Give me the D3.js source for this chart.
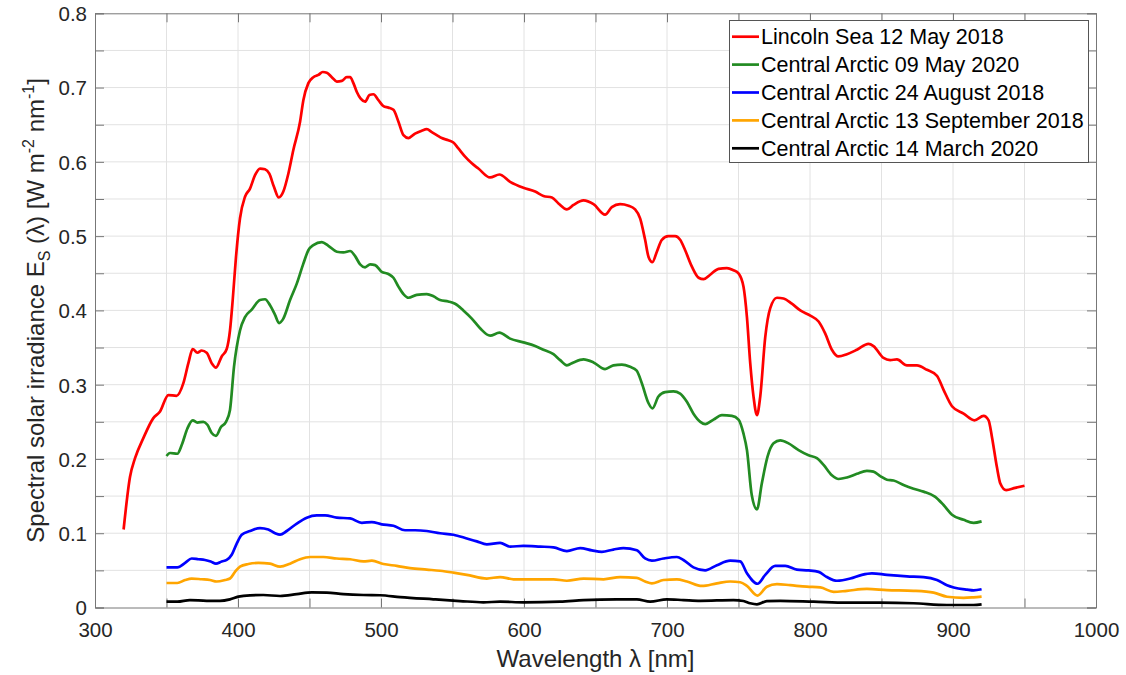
<!DOCTYPE html>
<html>
<head>
<meta charset="utf-8">
<script src="https://cdn.jsdelivr.net/npm/d3@7"></script>
<style>
body{margin:0;background:#fff}
text{font-family:"Liberation Sans",Arial,sans-serif}
</style>
</head>
<body>
<div id="chart"></div>
<script>
// legend text + line colours, same order as the series list below
var seriesNames = ["Lincoln Sea 12 May 2018","Central Arctic 09 May 2020","Central Arctic 24 August 2018","Central Arctic 13 September 2018","Central Arctic 14 March 2020"]
var seriesColors = ["#ff0000","#228b22","#0000ff","#ffa500","#000000"]

var xTicks = [300,350,400,450,500,550,600,650,700,750,800,850,900,950,1000]
var yTicks = [0,0.05,0.1,0.15,0.2,0.25,0.3,0.35,0.4,0.45,0.5,0.55,0.6,0.65,0.7,0.75,0.8]

// [wavelength nm, Es W m-2 nm-1]
var lincolnSea = [[320,0.105],[324.5,0.176],[328,0.201],[333.8,0.228],[340.8,0.255],[345.5,0.264],[351.3,0.286],[357,0.285],[361.8,0.302],[365.3,0.329],[368.3,0.348],[371.6,0.343],[374.6,0.346],[378.1,0.343],[381.6,0.329],[384.6,0.323],[388.6,0.338],[392.1,0.348],[394.4,0.373],[396.3,0.414],[398.6,0.472],[401.4,0.524],[404.9,0.553],[408.4,0.564],[411.9,0.582],[415.4,0.591],[418.9,0.59],[421.9,0.584],[425.2,0.566],[428.5,0.552],[431.7,0.56],[435.2,0.584],[438.7,0.616],[443.4,0.654],[445.7,0.683],[449.2,0.706],[452.7,0.714],[456.2,0.717],[459.3,0.721],[462.1,0.72],[465.6,0.714],[469.1,0.708],[472.6,0.709],[476.1,0.714],[478.4,0.714],[480.7,0.706],[483.1,0.694],[485.8,0.685],[488.9,0.681],[491.9,0.69],[494.7,0.691],[498.2,0.683],[501.7,0.675],[505.2,0.673],[508.7,0.67],[512.2,0.654],[515.7,0.636],[519.2,0.632],[523.8,0.638],[528.5,0.642],[532,0.644],[535.5,0.64],[539,0.636],[542.5,0.632],[547.1,0.629],[550.6,0.626],[554.1,0.618],[558.8,0.607],[563.5,0.598],[568.1,0.591],[576.3,0.579],[582.8,0.583],[590.3,0.573],[599.6,0.565],[607.8,0.56],[613.6,0.554],[619.5,0.552],[624.1,0.544],[630,0.536],[634.6,0.542],[641.6,0.548],[648.6,0.543],[656.7,0.529],[661.4,0.539],[667.2,0.543],[673.1,0.541],[677.7,0.536],[681.2,0.524],[684.7,0.495],[687.1,0.472],[689.8,0.465],[692.9,0.479],[696.4,0.495],[701,0.5],[705.7,0.5],[709.2,0.495],[712.7,0.481],[717.4,0.459],[722.1,0.444],[725.6,0.442],[730.2,0.448],[736,0.456],[741.9,0.457],[746.5,0.454],[750,0.45],[753.5,0.432],[755.9,0.391],[758.2,0.329],[760.5,0.284],[762.9,0.259],[765.2,0.284],[768.7,0.364],[772.2,0.403],[776.9,0.417],[781.5,0.416],[787.3,0.409],[793.2,0.4],[800.2,0.393],[806,0.385],[810.6,0.369],[815.3,0.347],[819.9,0.338],[825.8,0.341],[832.8,0.347],[840.9,0.355],[844.4,0.352],[851.4,0.336],[856.1,0.333],[860.8,0.334],[867.8,0.326],[874.8,0.326],[881.8,0.32],[888.8,0.312],[893.4,0.293],[899.3,0.271],[907.4,0.261],[915,0.252],[921.4,0.258],[924.9,0.252],[927.2,0.23],[930.7,0.189],[933.1,0.167],[937.2,0.158],[943.5,0.161],[950,0.164]]

var arcticMay = [[350,0.204],[352.5,0.208],[357.6,0.207],[360.7,0.219],[364.6,0.241],[368.3,0.252],[371.6,0.249],[375.8,0.25],[378.6,0.246],[381.6,0.235],[384.6,0.231],[388.1,0.243],[391.6,0.25],[394.4,0.266],[397.2,0.324],[401.4,0.373],[404.9,0.391],[409.6,0.401],[415.4,0.414],[418.9,0.415],[422.4,0.407],[425.9,0.394],[428.7,0.383],[431.7,0.389],[436.4,0.414],[441.1,0.436],[445.7,0.463],[449.2,0.481],[452.7,0.488],[458.6,0.492],[463.2,0.487],[469.1,0.479],[473.7,0.478],[478.4,0.48],[481.9,0.473],[485.4,0.462],[488.9,0.458],[492.4,0.462],[495.9,0.461],[500.5,0.452],[505.2,0.449],[508.7,0.444],[512.2,0.432],[515.7,0.422],[519.2,0.417],[525,0.421],[532,0.422],[536.7,0.419],[541.3,0.414],[547.1,0.412],[551.8,0.409],[557.6,0.4],[563.5,0.389],[569.3,0.376],[576.3,0.366],[582.8,0.37],[590.3,0.362],[599.6,0.357],[607.8,0.352],[613.6,0.347],[620.6,0.341],[625.3,0.333],[630,0.326],[634.6,0.33],[641.6,0.334],[648.6,0.33],[656.7,0.321],[662.5,0.326],[668.4,0.327],[674.2,0.324],[678.8,0.319],[682.4,0.302],[687.1,0.275],[689.8,0.268],[694,0.284],[698.7,0.29],[704.5,0.291],[709.2,0.288],[713.9,0.277],[718.5,0.261],[723.3,0.25],[726.8,0.247],[732.5,0.253],[738.4,0.259],[745.4,0.258],[750,0.253],[753.5,0.234],[755.9,0.212],[759.3,0.151],[762.9,0.132],[766.3,0.167],[770.3,0.203],[774.5,0.221],[779.2,0.225],[785,0.221],[792,0.212],[799,0.205],[804.8,0.201],[809.5,0.192],[815.3,0.178],[820,0.173],[825.8,0.175],[832.8,0.18],[839.8,0.184],[844.4,0.183],[849.1,0.177],[853.8,0.172],[858.4,0.171],[865.4,0.165],[872.4,0.16],[879.4,0.156],[887.6,0.149],[893.4,0.138],[899.3,0.125],[907.4,0.118],[914.4,0.114],[920,0.116]]

var arcticAug = [[350,0.054],[357.6,0.054],[363,0.06],[367.6,0.066],[372.3,0.065],[376.9,0.064],[380.9,0.062],[384.6,0.059],[388.6,0.062],[392.1,0.064],[395.6,0.071],[399.1,0.086],[402.6,0.098],[408.4,0.103],[415.4,0.107],[421.2,0.105],[425.9,0.1],[429.4,0.098],[434.1,0.103],[441.1,0.113],[448.1,0.121],[455.1,0.124],[460.9,0.124],[469.1,0.121],[478.4,0.12],[486.6,0.114],[493.6,0.115],[500.5,0.112],[508.7,0.11],[516.8,0.104],[523.8,0.104],[532,0.103],[541.3,0.1],[550.6,0.098],[560,0.093],[567,0.089],[574,0.085],[583.3,0.087],[590.3,0.082],[599.6,0.083],[611.3,0.082],[620.6,0.081],[630,0.076],[639.3,0.08],[647.4,0.077],[654.4,0.075],[662.5,0.078],[669.5,0.08],[678.9,0.077],[684.7,0.066],[689.4,0.063],[697.5,0.066],[706.9,0.068],[711.5,0.064],[718.5,0.054],[726.7,0.05],[734.9,0.057],[744.2,0.063],[751.2,0.062],[755.9,0.046],[763.3,0.032],[768.7,0.044],[775.7,0.056],[782.7,0.056],[790.8,0.051],[799,0.05],[806,0.048],[811.8,0.041],[818.8,0.036],[828.2,0.039],[836.3,0.044],[843.3,0.046],[853.8,0.044],[867.8,0.042],[879.4,0.041],[888.8,0.037],[895.8,0.03],[900.5,0.027],[909.8,0.024],[914.4,0.023],[920,0.0245]]

var arcticSep = [[350,0.033],[357.6,0.033],[363,0.037],[367.6,0.039],[374.6,0.038],[380.4,0.037],[385.1,0.035],[390.9,0.037],[394.4,0.039],[397.9,0.048],[401.4,0.055],[407.2,0.0585],[414.2,0.06],[422.4,0.059],[429.4,0.055],[436.4,0.059],[443.4,0.065],[450.4,0.068],[459.7,0.068],[469.1,0.066],[478.4,0.065],[487.7,0.062],[493.6,0.063],[501.7,0.0585],[511,0.056],[520.3,0.053],[532,0.051],[541.3,0.0495],[550.6,0.047],[560,0.044],[574,0.039],[583.3,0.041],[592.7,0.038],[606.6,0.038],[620.6,0.038],[630,0.036],[641.6,0.039],[655.6,0.038],[667.2,0.041],[678.9,0.04],[684.7,0.035],[689.4,0.0325],[697.5,0.037],[706.9,0.038],[713.9,0.035],[724.4,0.029],[734.9,0.0325],[744.2,0.035],[751.2,0.034],[755.9,0.029],[763.3,0.016],[769.8,0.028],[776.9,0.0315],[786.2,0.03],[797.8,0.028],[807.2,0.027],[816.5,0.021],[825.8,0.0225],[839.8,0.025],[853.8,0.0235],[872.4,0.0225],[886.5,0.02],[895.8,0.0145],[907.4,0.013],[914.4,0.0137],[920,0.0146]]

var arcticMar = [[350,0.0078],[357.6,0.0078],[366.4,0.01],[378.1,0.009],[387.4,0.009],[394.4,0.011],[400.3,0.0146],[408.4,0.0164],[417.7,0.0168],[429.4,0.0155],[441.1,0.018],[451.6,0.0204],[462.1,0.02],[473.7,0.018],[487.7,0.0168],[499.4,0.0165],[513.4,0.014],[536.6,0.011],[555.3,0.0087],[571.6,0.007],[583.3,0.0078],[599.6,0.007],[625.3,0.0078],[641.6,0.01],[664.9,0.011],[678.9,0.011],[688.2,0.0078],[699.9,0.011],[711.5,0.01],[723.2,0.009],[746.5,0.01],[753.5,0.0087],[758.2,0.0057],[762.9,0.0043],[769.8,0.0087],[779.2,0.009],[802.5,0.0078],[825.8,0.0065],[849.1,0.0065],[872.4,0.0057],[895.8,0.0034],[914.4,0.0034],[920,0.0043]]

var allSeries = [lincolnSea, arcticMay, arcticAug, arcticSep, arcticMar]

var W = 1126, H = 675
// plot box edges (don't call these top/left, window.top is taken)
var plotL = 95, plotR = 1096, plotT = 13.3, plotB = 607.5

var svg = d3.select("#chart").append("svg")
    .attr("width", W).attr("height", H)

var x = d3.scaleLinear().domain([300,1000]).range([plotL,plotR])
var y = d3.scaleLinear().domain([0,0.8]).range([plotB,plotT])

// grid
svg.append("g").selectAll("line").data(xTicks.slice(1,-1)).enter().append("line")
    .attr("x1", d => x(d)).attr("x2", d => x(d))
    .attr("y1", plotT).attr("y2", plotB)
    .attr("stroke", "#e2e2e2").attr("stroke-width", 1)
svg.append("g").selectAll("line").data(yTicks.slice(1,-1)).enter().append("line")
    .attr("x1", plotL).attr("x2", plotR)
    .attr("y1", d => y(d)).attr("y2", d => y(d))
    .attr("stroke", "#e2e2e2").attr("stroke-width", 1)

// axes, ticks inward, mirrored on top/right like matlab box on
var fmtX = d => (d % 100 === 0) ? d : ""
var fmtY = d => (Math.round(d*100) % 10 === 0) ? d3.format("~g")(+d.toFixed(2)) : ""

var xAxis = svg.append("g").attr("transform", "translate(0," + plotB + ")")
    .call(d3.axisBottom(x).tickValues(xTicks).tickSize(-9).tickPadding(15).tickFormat(fmtX))
var xTop = svg.append("g").attr("transform", "translate(0," + plotT + ")")
    .call(d3.axisTop(x).tickValues(xTicks).tickSize(-9).tickFormat(""))
var yAxis = svg.append("g").attr("transform", "translate(" + plotL + ",0)")
    .call(d3.axisLeft(y).tickValues(yTicks).tickSize(-9).tickPadding(8).tickFormat(fmtY))
var yRight = svg.append("g").attr("transform", "translate(" + plotR + ",0)")
    .call(d3.axisRight(y).tickValues(yTicks).tickSize(-9).tickFormat(""))

svg.selectAll(".domain").attr("stroke", "#777").attr("stroke-width", 1)
svg.selectAll(".tick line").attr("stroke", "#777")
svg.selectAll(".tick text").attr("fill", "#262626")
    .style("font-size", "20.5px").style("font-family", "'Liberation Sans', Arial, sans-serif")
xAxis.selectAll(".tick text").attr("dy", "0.71em")
yAxis.selectAll(".tick text").attr("dy", "0.36em")

// lines
var line = d3.line()
    .x(d => x(d[0])).y(d => y(d[1]))
    .curve(d3.curveMonotoneX)

// draw last series first so red ends on top
for (var i = allSeries.length - 1; i >= 0; i--) {
    svg.append("path")
        .datum(allSeries[i])
        .attr("fill", "none")
        .attr("stroke", seriesColors[i])
        .attr("stroke-width", 2.7)
        .attr("stroke-linejoin", "round")
        .attr("d", line)
}

// axis titles
svg.append("text")
    .attr("x", (plotL + plotR) / 2).attr("y", 667)
    .attr("text-anchor", "middle").attr("fill", "#262626")
    .style("font-size", "24px")
    .text("Wavelength \u03bb [nm]")

var yt = svg.append("text")
    .attr("transform", "translate(44," + ((plotT + plotB) / 2) + ") rotate(-90)")
    .attr("text-anchor", "middle").attr("fill", "#262626")
    .style("font-size", "24px")
yt.append("tspan").text("Spectral solar irradiance E")
yt.append("tspan").attr("dy", 6).style("font-size", "16px").text("S")
yt.append("tspan").attr("dy", -6).text(" (\u03bb) [W m")
yt.append("tspan").attr("dy", -10).style("font-size", "16px").text("-2")
yt.append("tspan").attr("dy", 10).text(" nm")
yt.append("tspan").attr("dy", -10).style("font-size", "16px").text("-1")
yt.append("tspan").attr("dy", 10).text("]")

// legend
var lg = svg.append("g")
lg.append("rect")
    .attr("x", 729.5).attr("y", 20.5).attr("width", 359).attr("height", 142)
    .attr("fill", "#fff").attr("stroke", "#555").attr("stroke-width", 1)
seriesNames.forEach(function (name, i) {
    var cy = 36.7 + i * 27.9
    lg.append("line")
        .attr("x1", 732).attr("x2", 759).attr("y1", cy).attr("y2", cy)
        .attr("stroke", seriesColors[i]).attr("stroke-width", 2.7)
    lg.append("text")
        .attr("x", 761).attr("y", cy).attr("dy", "0.36em")
        .attr("fill", "#000").style("font-size", "21.5px")
        .text(name)
})
</script>
</body>
</html>
